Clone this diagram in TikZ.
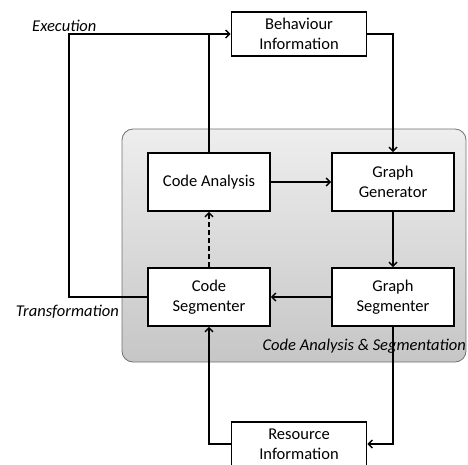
\documentclass[tikz,border=0pt]{standalone}
\usepackage{fontspec}
\setmainfont{Carlito}
\usetikzlibrary{arrows.meta}
\definecolor{paneltop}{HTML}{EEEEEE}
\definecolor{panelbot}{HTML}{C6C6C6}
\definecolor{panelline}{HTML}{707070}
\begin{document}
\begin{tikzpicture}[x=1pt,y=-1pt,
  font=\fontsize{16.5}{20}\selectfont,
  block/.style={draw=black,line width=1.9pt,fill=white,align=center,inner sep=0pt},
  flow/.style={line width=1.9pt,-{Straight Barb[length=4pt,width=8pt,line width=1.4pt]}},
  loopline/.style={line width=1.5pt},
  caption/.style={font=\fontsize{16.5}{20}\selectfont\itshape,inner sep=0pt}]
\useasboundingbox (0,0) rectangle (468,464);

% shaded panel behind the analysis stage
\shade[top color=paneltop,bottom color=panelbot,rounded corners=11pt]
  (122,129) rectangle (466,362);
\draw[panelline,line width=0.8pt,rounded corners=11pt] (122,129) rectangle (466,362);
\node[caption,anchor=east] (lblpanel) at (466,346) {Code Analysis \& Segmentation};

% blocks
\node[block,minimum width=135pt,minimum height=44pt] (beh) at (299,34) {Behaviour\\Information};
\node[block,minimum width=122pt,minimum height=58pt] (ca) at (209,182) {Code Analysis};
\node[block,minimum width=122pt,minimum height=58pt] (gg) at (393,182) {Graph\\Generator};
\node[block,minimum width=122pt,minimum height=58pt] (cs) at (209,297) {Code\\Segmenter};
\node[block,minimum width=122pt,minimum height=58pt] (gs) at (393,297) {Graph\\Segmenter};
\node[block,minimum width=135pt,minimum height=44pt] (res) at (299,444) {Resource\\Information};

% side labels
\node[caption,anchor=west] (lblexec) at (32,26) {Execution};
\node[caption,anchor=east] (lbltrans) at (119,312) {Transformation};

\coordinate (loopbot) at (69,297);
\coordinate (looptop) at (69,34);
\coordinate (join) at (ca.north |- beh.west);

% execution / transformation loop back to behaviour information
\draw[loopline] (cs.west) -- (loopbot) -- (looptop) -- (join);
\draw[flow,line width=1.6pt] (join) -- (beh.west);
\draw[loopline] (ca.north) -- (join);

% main flow
\draw[flow] (beh.east) -| (gg.north);
\draw[flow] (ca.east) -- (gg.west);
\draw[flow] (gg.south) -- (gs.north);
\draw[flow] (gs.west) -- (cs.east);
\draw[flow,dashed,dash pattern=on 5pt off 3pt] (cs.north) -- (ca.south);

% resource information loop
\draw[flow,line width=1.5pt] (gs.south) |- (res.east);
\draw[flow,line width=1.5pt] (res.west) -| (cs.south);
\end{tikzpicture}
\end{document}
